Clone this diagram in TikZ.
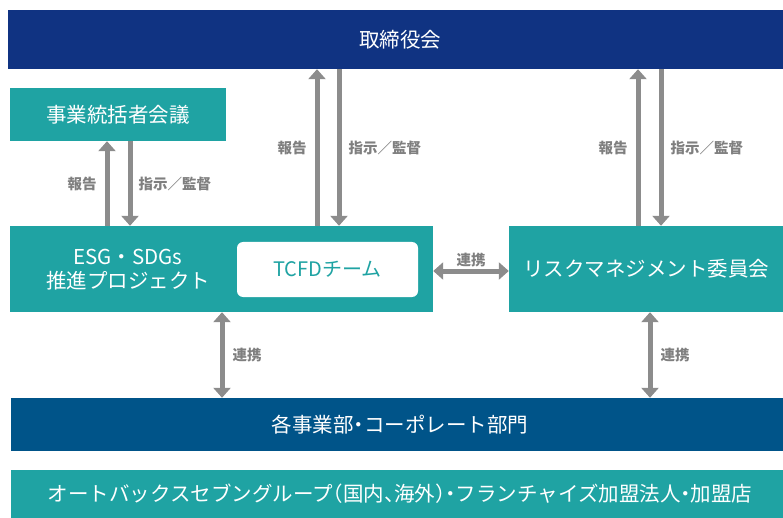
\documentclass[tikz,border=0pt]{standalone}
\usepackage{fontspec}
\setmainfont{Noto Sans CJK JP}
\usetikzlibrary{arrows.meta,positioning,calc}
\definecolor{boardblue}{HTML}{103382}
\definecolor{tealbox}{HTML}{1FA3A3}
\definecolor{deptblue}{HTML}{005489}
\definecolor{arrowgray}{HTML}{8C8C8C}
\definecolor{labelgray}{HTML}{7F7F7F}
% half-width punctuation
\newcommand{\hdot}{\makebox[0.5em]{・}}
\newcommand{\hlpar}{\makebox[0.5em][r]{（}}
\newcommand{\hrpar}{\makebox[0.5em][l]{）}}
\newcommand{\hcomma}{\makebox[0.5em][l]{、}}

\begin{document}
\begin{tikzpicture}[
    x=1pt, y=-1pt,
    box/.style={fill=tealbox, text=white, inner sep=0pt, font=\fontsize{20.5}{24}\selectfont},
    lbl/.style={inner sep=0pt, text=labelgray, font=\fontsize{14.5}{16}\selectfont\bfseries},
    arrow/.style={-{Triangle[width=17pt,length=10pt]}, line width=5pt, draw=arrowgray, fill=arrowgray},
    dblarrow/.style={{Triangle[width=17pt,length=10pt]}-{Triangle[width=17pt,length=10pt]}, line width=5pt, draw=arrowgray, fill=arrowgray}
]
\useasboundingbox (0,0) rectangle (783,518);

% Boxes
\node[box, fill=boardblue, minimum width=775pt, minimum height=59pt] (board) at (395.5,39.5) {\hspace{9pt}取締役会};
\node[box, minimum width=216pt, minimum height=53pt] (meeting) at (118,114.5) {事業統括者会議};
\node[box, minimum width=423pt, minimum height=86pt] (esg) at (221.5,269) {};
\node[text=white, inner sep=0pt, align=center, font=\fontsize{20.5}{24}\selectfont] (esglabel) at (128,270) {ESG・SDGs\\推進プロジェクト};
\node[fill=white, rounded corners=6pt, text=tealbox, inner sep=0pt, minimum width=181pt, minimum height=55pt, font=\fontsize{20}{24}\selectfont] (tcfd) at (327.5,269.5) {TCFDチーム};
\node[box, minimum width=274pt, minimum height=86pt] (risk) at (646,269) {リスクマネジメント委員会};
\node[box, fill=deptblue, minimum width=772pt, minimum height=53pt] (dept) at (397,424.5) {\hspace{6pt}各事業部\hdot コーポレート部門};
\node[box, minimum width=772pt, minimum height=48pt] (group) at (397,494) {\hspace{6pt}オートバックスセブングループ\hlpar 国内\hcomma 海外\hrpar\hdot フランチャイズ加盟法人\hdot 加盟店};

% Arrow positions
\coordinate (l1) at (107,0);
\coordinate (l2) at (130,0);
\coordinate (m1) at (317,0);
\coordinate (m2) at (339,0);
\coordinate (r1) at (638,0);
\coordinate (r2) at (661,0);
\coordinate (b1) at (222,0);
\coordinate (b2) at (650,0);

% Reporting lines
\draw[arrow] (esg.north -| l1) -- node[lbl, left=8pt] {報告} (meeting.south -| l1);
\draw[arrow] (meeting.south -| l2) -- node[lbl, right=6pt] {指示／監督} (esg.north -| l2);
\draw[arrow] (esg.north -| m1) -- node[lbl, left=8pt] {報告} (board.south -| m1);
\draw[arrow] (board.south -| m2) -- node[lbl, right=7pt] {指示／監督} (esg.north -| m2);
\draw[arrow] (risk.north -| r1) -- node[lbl, left=8pt] {報告} (board.south -| r1);
\draw[arrow] (board.south -| r2) -- node[lbl, right=7pt] {指示／監督} (risk.north -| r2);

% Cooperation
\draw[dblarrow] ([yshift=-2pt]esg.east) -- node[lbl, above=2pt] {連携} ([yshift=-2pt]risk.west);
\draw[dblarrow] (esg.south -| b1) -- node[lbl, right=8pt] {連携} (dept.north -| b1);
\draw[dblarrow] (risk.south -| b2) -- node[lbl, right=8pt] {連携} (dept.north -| b2);

\end{tikzpicture}
\end{document}
